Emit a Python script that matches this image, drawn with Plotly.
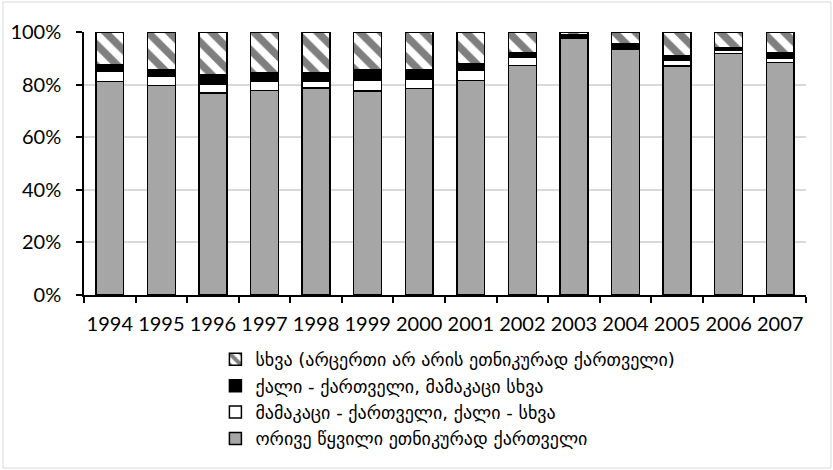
import plotly.graph_objects as go

years = ["1994", "1995", "1996", "1997", "1998", "1999", "2000",
         "2001", "2002", "2003", "2004", "2005", "2006", "2007"]

both_georgian = [81.1, 79.6, 76.9, 77.7, 78.7, 77.6, 78.5, 81.6, 87.3, 97.5, 93.4, 87.1, 91.9, 88.5]
male_georgian = [3.8, 3.4, 3.3, 3.4, 2.4, 3.9, 3.5, 3.9, 3.0, 0.2, 0.2, 2.0, 1.0, 1.5]
female_georgian = [2.5, 2.8, 3.4, 3.4, 3.4, 4.0, 3.5, 2.5, 1.9, 1.4, 2.0, 1.8, 1.0, 2.0]
other = [round(100 - a - b - c, 1) for a, b, c in zip(both_georgian, male_georgian, female_georgian)]

names = [
    "ორივე წყვილი ეთნიკურად ქართველი",
    "მამაკაცი - ქართველი, ქალი - სხვა",
    "ქალი - ქართველი, მამაკაცი სხვა",
    "სხვა (არცერთი არ არის ეთნიკურად ქართველი)",
]

fig = go.Figure()
line = dict(color="black", width=1.5)
fig.add_trace(go.Bar(x=years, y=both_georgian, name=names[0],
                     marker=dict(color="#a6a6a6", line=line)))
fig.add_trace(go.Bar(x=years, y=male_georgian, name=names[1],
                     marker=dict(color="white", line=line)))
fig.add_trace(go.Bar(x=years, y=female_georgian, name=names[2],
                     marker=dict(color="black", line=line)))
fig.add_trace(go.Bar(x=years, y=other, name=names[3],
                     marker=dict(color="white", line=line,
                                 pattern=dict(shape="\\", fgcolor="black", bgcolor="white",
                                              size=15, solidity=0.5, fillmode="overlay"))))

fig.update_layout(
    barmode="stack",
    bargap=0.46,
    width=833, height=470,
    margin=dict(l=84, r=27, t=32, b=175),
    paper_bgcolor="white", plot_bgcolor="white",
    font=dict(family="Lato, sans-serif", size=20, color="black"),
    showlegend=True,
    legend=dict(
        traceorder="reversed",
        x=0.182, y=-0.175, xanchor="left", yanchor="top",
        font=dict(family="DejaVu Sans, sans-serif", size=18, color="black"),
        bgcolor="rgba(0,0,0,0)",
        itemwidth=30,
        tracegroupgap=0,
    ),
    xaxis=dict(
        automargin=False,
        showline=True, linecolor="black", linewidth=1.5,
        ticks="outside", tickson="boundaries", ticklen=6, tickcolor="black", tickwidth=1.5,
        showgrid=False,
        tickangle=0,
        tickfont=dict(size=20),
        ticklabelstandoff=10,
    ),
    yaxis=dict(
        automargin=False,
        range=[0, 100],
        tickvals=[0, 20, 40, 60, 80, 100],
        ticktext=["0%", "20%", "40%", "60%", "80%", "100%"],
        showline=True, linecolor="black", linewidth=1.5,
        ticks="outside", ticklen=6, tickcolor="black", tickwidth=1.5,
        showgrid=True, gridcolor="#d9d9d9", gridwidth=1.5,
        zeroline=False,
        tickfont=dict(size=20),
        ticklabelstandoff=11,
    ),
    shapes=[dict(type="rect", xref="paper", yref="paper",
                 x0=-0.1122, x1=1.0346, y0=-0.658, y1=1.114,
                 line=dict(color="#d9d9d9", width=1), layer="below")],
)

fig.write_html("out.html", config={"displayModeBar": False},
               post_script="document.body.style.margin='0px';")
